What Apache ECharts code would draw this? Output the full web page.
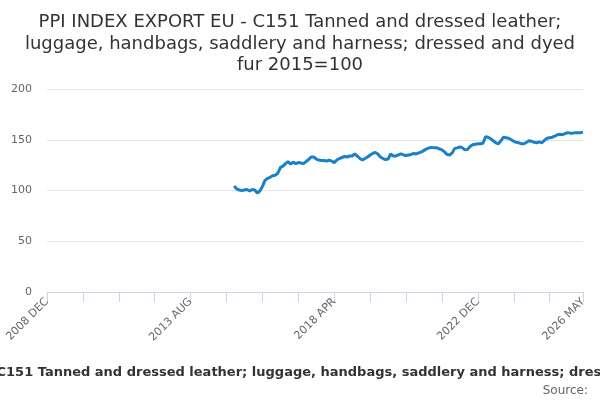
<!DOCTYPE html>
<html>
<head>
<meta charset="utf-8">
<script src="https://cdn.jsdelivr.net/npm/echarts@6/dist/echarts.min.js"></script>
<style>
  html, body { margin: 0; padding: 0; background: #fff; }
  #chart { width: 600px; height: 400px; }
</style>
</head>
<body>
<div id="chart"></div>
<script>
const MONTHS = ['JAN', 'FEB', 'MAR', 'APR', 'MAY', 'JUN', 'JUL', 'AUG', 'SEP', 'OCT', 'NOV', 'DEC'];

// monthly categories 2008 DEC .. 2026 MAY
const categories = ['2008 DEC'];
for (let y = 2009; y <= 2026; y++) {
  for (let m = 0; m < 12; m++) {
    if (y === 2026 && m > 4) break;
    categories.push(y + ' ' + MONTHS[m]);
  }
}

// index values, 2015 JAN .. 2026 MAY
const firstMonth = '2015 JAN';
const values = [
  104.5, 101.5, 100.5, 100, 100.5, 101, 99.5, 101, 100.5, 97.5, 99.5, 104,
  110, 112, 113, 114.5, 115, 117, 122.5, 124, 126.5, 128.5, 126, 128,
  126.5, 127.5, 127, 126.5, 128.5, 130.5, 133, 133, 131, 130, 129.5, 129.5,
  129, 130, 129, 127.5, 130, 131.5, 132.5, 133.5, 133, 134, 134, 136,
  134, 131.5, 130, 131.5, 133, 135, 136.5, 137.5, 136, 133, 131.5, 130.5,
  131, 136, 134, 134, 135, 136, 135, 134.5, 135, 135.5, 136.5, 136,
  137, 138, 139.5, 141, 142, 142.5, 142, 142, 141, 140, 138, 135.5,
  135, 137, 141.5, 142, 143, 142, 140, 140.5, 143.5, 145, 145.5, 146,
  146, 146.5, 153, 152.5, 151, 149, 147, 146, 149, 152.5, 152, 151.5,
  150, 148.5, 147.5, 147, 146, 146, 147.5, 149, 148.5, 147.5, 147, 148,
  147, 149.5, 151.5, 152, 152.5, 153.5, 155, 155.5, 155, 156, 157, 156.5,
  156.5, 157, 157, 157, 157.5
];

const yTicks = [0, 50, 100, 150, 200];
const titleText = 'PPI INDEX EXPORT EU - C151 Tanned and dressed leather;\nluggage, handbags, saddlery and harness; dressed and dyed\nfur 2015=100';
const seriesName = 'PPI INDEX EXPORT EU - C151 Tanned and dressed leather; luggage, handbags, saddlery and harness; dressed and dyed fur 2015=100';

const startIdx = categories.indexOf(firstMonth);
const seriesData = categories.map((c, i) => (i >= startIdx ? values[i - startIdx] : null));
const lastIdx = categories.length - 1;

const font = 'DejaVu Sans';
const myChart = echarts.init(document.getElementById('chart'), null, { renderer: 'canvas' });
myChart.setOption({
  animation: false,
  textStyle: { fontFamily: font },
  title: [{
    text: titleText,
    left: 'center',
    top: 7,
    textStyle: { fontFamily: font, fontSize: 18, fontWeight: 'normal', color: '#333', lineHeight: 21.5 }
  }, {
    text: 'Source:',
    right: 7,
    top: 380,
    textStyle: { fontFamily: font, fontSize: 12, fontWeight: 'normal', color: '#666' }
  }],
  // legend-like series label, clipped at both edges as in the original
  graphic: [{
    type: 'text',
    x: 313,
    y: 373,
    style: {
      text: seriesName,
      textAlign: 'center',
      textVerticalAlign: 'middle',
      fontFamily: font,
      fontSize: 13,
      fontWeight: 'bold',
      fill: '#333'
    }
  }],
  grid: { left: 47, right: 17, top: 89, bottom: 108, containLabel: false },
  xAxis: {
    type: 'category',
    data: categories,
    boundaryGap: false,
    axisLine: { lineStyle: { color: '#ccd6eb', width: 1 } },
    axisTick: {
      length: 10,
      interval: (i) => i % 14 === 0 || i === lastIdx,
      lineStyle: { color: '#ccd6eb' }
    },
    axisLabel: {
      rotate: 45,
      interval: (i) => i % 56 === 0 || i === lastIdx,
      color: '#666',
      fontSize: 11,
      fontFamily: font,
      margin: 8
    },
    splitLine: { show: false }
  },
  yAxis: {
    type: 'value',
    min: yTicks[0],
    max: yTicks[yTicks.length - 1],
    interval: yTicks[1] - yTicks[0],
    axisLine: { show: false },
    axisTick: { show: false },
    axisLabel: { color: '#666', fontSize: 11, fontFamily: font, margin: 15 },
    splitLine: { lineStyle: { color: '#e6e6e6' } }
  },
  series: [{
    name: seriesName,
    type: 'line',
    data: seriesData,
    showSymbol: false,
    connectNulls: false,
    lineStyle: { color: '#1a80c8', width: 3 },
    itemStyle: { color: '#1a80c8' }
  }]
});

window.addEventListener('resize', function () {
  myChart.resize();
});
</script>
</body>
</html>
